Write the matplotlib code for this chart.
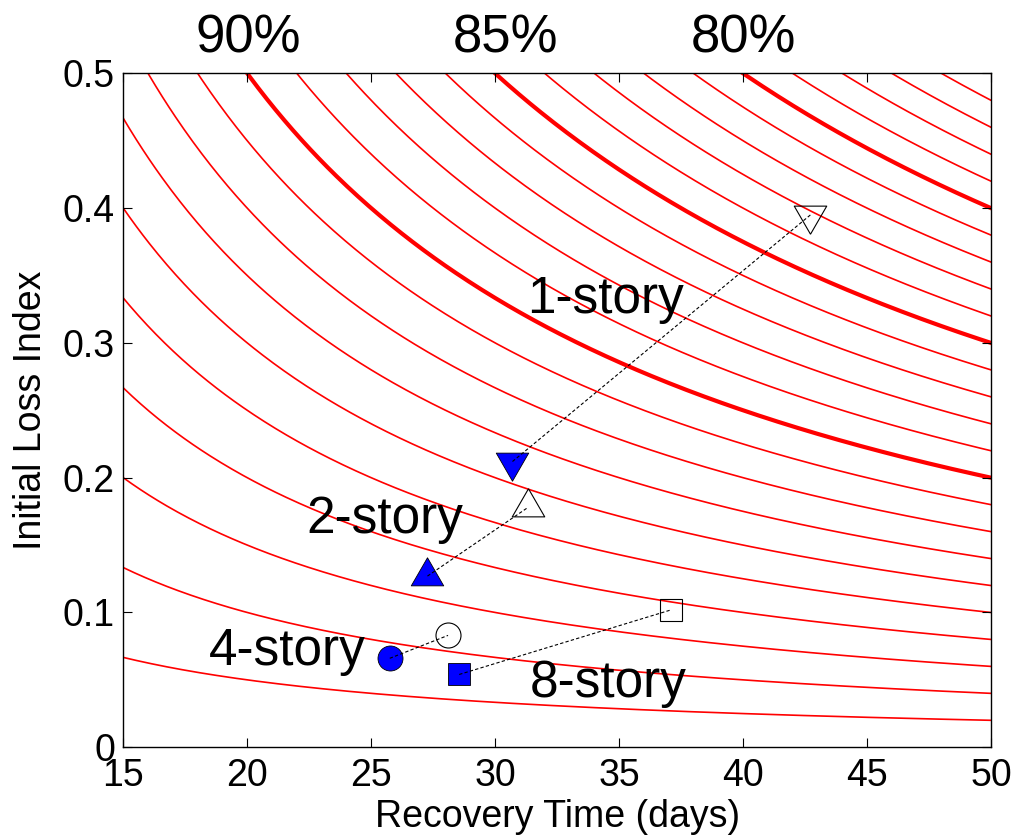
import matplotlib
matplotlib.use("Agg")
import matplotlib.pyplot as plt
import numpy as np

plt.rcParams['font.family'] = ['Liberation Sans', 'DejaVu Sans']

# iso-resilience curves: loss * time = level
levels = list(range(1, 26))
thick_levels = [10, 15, 20]
pct_labels = ["90%", "85%", "80%"]
pct_x = [20.05, 30.4, 40.0]

# building results (without / with retrofit)
buildings = ["1-story", "2-story", "4-story", "8-story"]
open_x = [42.72, 31.33, 28.10, 37.11]
open_y = [0.395, 0.178, 0.083, 0.102]
fill_x = [30.70, 27.27, 25.75, 28.55]
fill_y = [0.212, 0.127, 0.066, 0.054]
open_marks = ["down", "up", "o", "s"]

label_x = [31.29, 22.37, 18.47, 31.40]
label_y = [0.322, 0.1587, 0.0611, 0.0375]

# triangle markers with the centroid on the data point
tri_up = [(0, 1.155), (-1, -0.577), (1, -0.577), (0, 1.155)]
tri_down = [(x, -y) for x, y in tri_up]
marker_map = {"up": (tri_up, 27), "down": (tri_down, 27), "o": ("o", 18), "s": ("s", 15.5)}

fig = plt.figure(figsize=(10.17, 8.4), dpi=100)
ax = fig.add_axes([0.1212, 0.1104, 0.8532, 0.8023])

t = np.linspace(15, 50, 400)
for c in levels:
    lw = 3.0 if c in thick_levels else 1.2
    ax.plot(t, c / t, color="red", lw=lw, zorder=1)

for i in range(len(buildings)):
    m, ms = marker_map[open_marks[i]]
    ax.plot(open_x[i], open_y[i], marker=m, ms=ms, mfc="none", mec="black",
            mew=0.8, ls="none", zorder=3)
    ax.plot(fill_x[i], fill_y[i], marker=m, ms=ms, mfc="blue", mec="black",
            mew=0.6, ls="none", zorder=3)
    ax.plot([fill_x[i], open_x[i]], [fill_y[i], open_y[i]], color="black",
            lw=0.8, ls=(0, (3, 2)), zorder=4)
    ax.text(label_x[i], label_y[i], buildings[i], fontsize=37, ha="left",
            va="baseline", zorder=5)

for s, x in zip(pct_labels, pct_x):
    ax.text(x, 0.526, s, fontsize=38, ha="center", va="center", clip_on=False)

ax.set_xlim(15, 50)
ax.set_ylim(0, 0.5)
ax.set_xticks([15, 20, 25, 30, 35, 40, 45, 50])
ax.set_yticks([0, 0.1, 0.2, 0.3, 0.4, 0.5])
ax.set_yticklabels(["0", "0.1", "0.2", "0.3", "0.4", "0.5"])
ax.tick_params(direction="in", length=6.5, width=0.8, top=True, right=True,
               labelsize=27)
ax.tick_params(axis="x", pad=8)
ax.tick_params(axis="y", pad=6)
for sp in ax.spines.values():
    sp.set_linewidth(1.0)

ax.set_xlabel("Recovery Time (days)", fontsize=27, labelpad=3)
ax.set_ylabel("Initial Loss Index", fontsize=27, labelpad=10)

fig.savefig("out.png", dpi=100)
